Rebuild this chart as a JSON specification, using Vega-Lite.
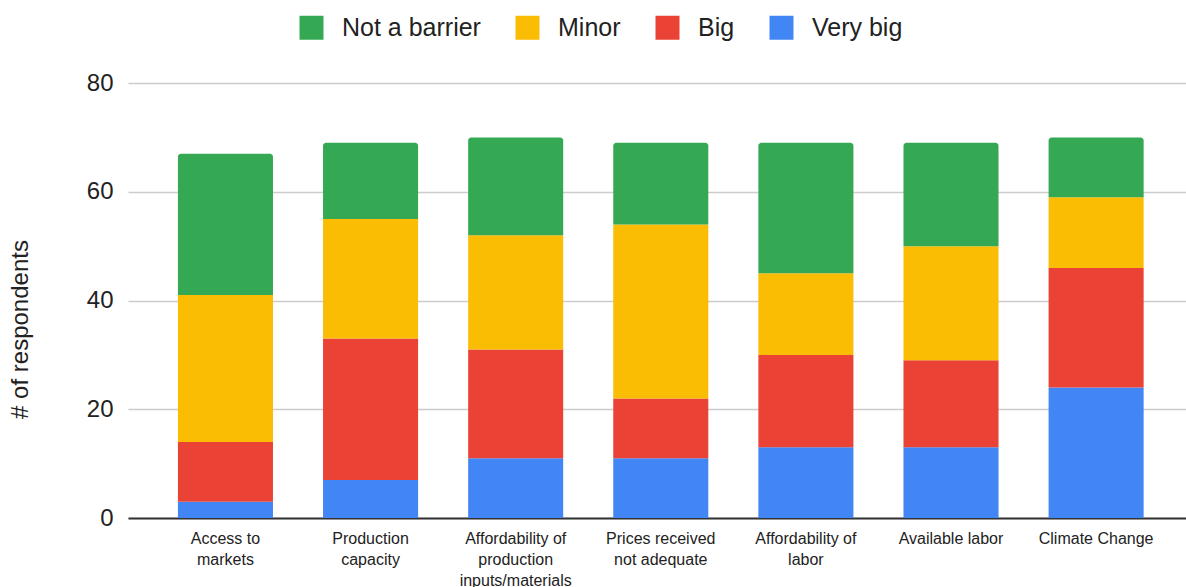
{
  "$schema": "https://vega.github.io/schema/vega-lite/v6.json",
  "autosize": {"type": "none"},
  "padding": {"left": 128, "top": 83, "right": 0, "bottom": 69},
  "width": 1058,
  "height": 435,
  "config": {
    "font": "Liberation Sans",
    "view": {"stroke": null},
    "axis": {"labelColor": "#222222", "titleColor": "#222222", "labelFont": "Liberation Sans", "titleFont": "Liberation Sans"},
    "legend": {"labelFont": "Liberation Sans"}
  },
  "data": {
    "values": [
      {"barrier": "Access to markets", "level": "Very big", "count": 3},
      {"barrier": "Access to markets", "level": "Big", "count": 11},
      {"barrier": "Access to markets", "level": "Minor", "count": 27},
      {"barrier": "Access to markets", "level": "Not a barrier", "count": 26},
      {"barrier": "Production capacity", "level": "Very big", "count": 7},
      {"barrier": "Production capacity", "level": "Big", "count": 26},
      {"barrier": "Production capacity", "level": "Minor", "count": 22},
      {"barrier": "Production capacity", "level": "Not a barrier", "count": 14},
      {"barrier": "Affordability of production inputs/materials", "level": "Very big", "count": 11},
      {"barrier": "Affordability of production inputs/materials", "level": "Big", "count": 20},
      {"barrier": "Affordability of production inputs/materials", "level": "Minor", "count": 21},
      {"barrier": "Affordability of production inputs/materials", "level": "Not a barrier", "count": 18},
      {"barrier": "Prices received not adequate", "level": "Very big", "count": 11},
      {"barrier": "Prices received not adequate", "level": "Big", "count": 11},
      {"barrier": "Prices received not adequate", "level": "Minor", "count": 32},
      {"barrier": "Prices received not adequate", "level": "Not a barrier", "count": 15},
      {"barrier": "Affordability of labor", "level": "Very big", "count": 13},
      {"barrier": "Affordability of labor", "level": "Big", "count": 17},
      {"barrier": "Affordability of labor", "level": "Minor", "count": 15},
      {"barrier": "Affordability of labor", "level": "Not a barrier", "count": 24},
      {"barrier": "Available labor", "level": "Very big", "count": 13},
      {"barrier": "Available labor", "level": "Big", "count": 16},
      {"barrier": "Available labor", "level": "Minor", "count": 21},
      {"barrier": "Available labor", "level": "Not a barrier", "count": 19},
      {"barrier": "Climate Change", "level": "Very big", "count": 24},
      {"barrier": "Climate Change", "level": "Big", "count": 22},
      {"barrier": "Climate Change", "level": "Minor", "count": 13},
      {"barrier": "Climate Change", "level": "Not a barrier", "count": 11}
    ]
  },
  "transform": [
    {"calculate": "indexof(['Very big', 'Big', 'Minor', 'Not a barrier'], datum.level)", "as": "stackRank"},
    {"stack": "count", "groupby": ["barrier"], "sort": [{"field": "stackRank", "order": "ascending"}], "as": ["y0", "y1"]}
  ],
  "encoding": {
    "x": {
      "field": "barrier",
      "type": "nominal",
      "sort": null,
      "scale": {"paddingInner": 0.345, "paddingOuter": 0.318, "align": 0.541},
      "axis": {
        "title": null,
        "labelAngle": 0,
        "labelFontSize": 16,
        "labelLineHeight": 21,
        "labelPadding": 12,
        "labelBaseline": "top",
        "labelLimit": 300,
        "ticks": false,
        "domainColor": "#333333",
        "domainWidth": 2,
        "labelExpr": "datum.label == 'Access to markets' ? ['Access to', 'markets'] : datum.label == 'Production capacity' ? ['Production', 'capacity'] : datum.label == 'Affordability of production inputs/materials' ? ['Affordability of', 'production', 'inputs/materials'] : datum.label == 'Prices received not adequate' ? ['Prices received', 'not adequate'] : datum.label == 'Affordability of labor' ? ['Affordability of', 'labor'] : datum.label"
      }
    },
    "y": {
      "field": "y0",
      "type": "quantitative",
      "scale": {"domain": [0, 80], "nice": false},
      "axis": {
        "title": "# of respondents",
        "titleFontSize": 24,
        "titleFontWeight": "normal",
        "titleAngle": -90,
        "titleAlign": "center",
        "titleBaseline": "middle",
        "titleX": -108,
        "titleY": 246,
        "values": [0, 20, 40, 60, 80],
        "labelFontSize": 24,
        "labelPadding": 15,
        "ticks": false,
        "domain": false,
        "gridColor": "#cccccc",
        "gridWidth": 1.5
      }
    },
    "y2": {"field": "y1"},
    "color": {
      "field": "level",
      "type": "nominal",
      "scale": {
        "domain": ["Not a barrier", "Minor", "Big", "Very big"],
        "range": ["#34a853", "#fbbc04", "#ea4335", "#4285f4"]
      },
      "legend": {
        "title": null,
        "orient": "none",
        "direction": "horizontal",
        "legendX": 171,
        "legendY": -68,
        "symbolType": "square",
        "symbolSize": 576,
        "symbolStrokeWidth": 0,
        "symbolOpacity": 1,
        "labelFontSize": 25,
        "labelColor": "#222222",
        "labelOffset": 18,
        "columnPadding": 34
      }
    }
  },
  "layer": [
    {
      "transform": [{"filter": "datum.level != 'Not a barrier'"}],
      "mark": {"type": "bar"}
    },
    {
      "transform": [{"filter": "datum.level == 'Not a barrier'"}],
      "mark": {"type": "bar", "cornerRadiusTopLeft": 3, "cornerRadiusTopRight": 3}
    }
  ]
}
